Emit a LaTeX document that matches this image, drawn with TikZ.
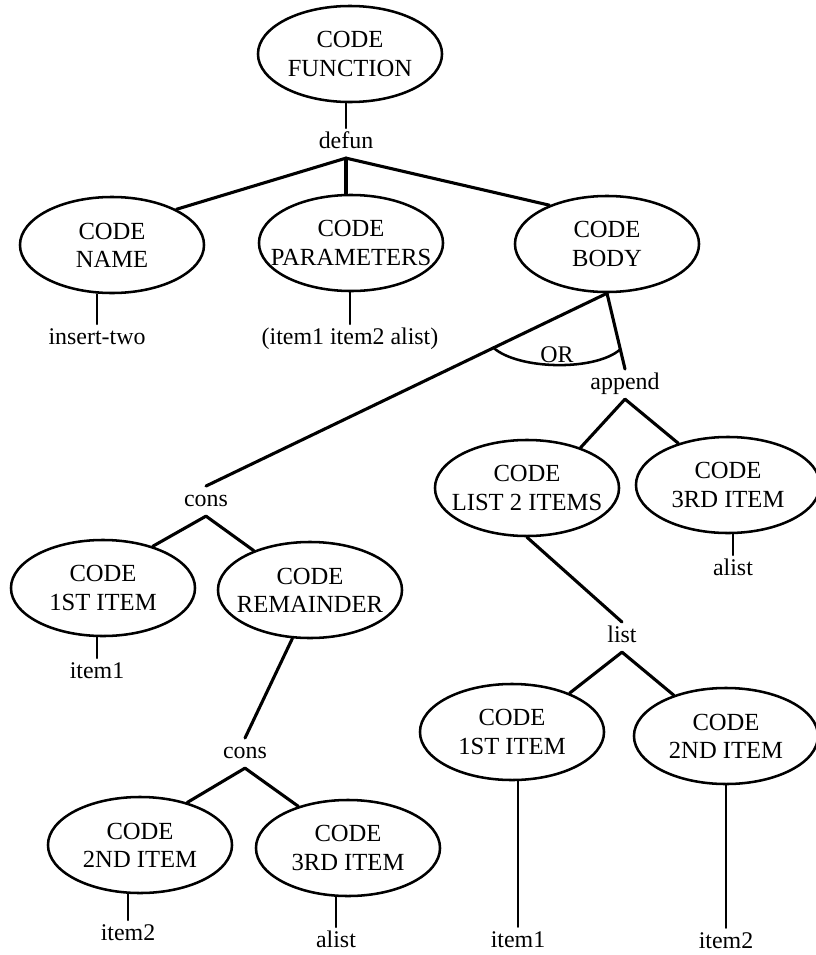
\documentclass[tikz,border=0pt]{standalone}
\usepackage{fontspec}
\setmainfont{Liberation Serif}
\usetikzlibrary{shapes.geometric}

\tikzset{
  codetext/.style={align=center, font=\fontsize{17.5}{20}\selectfont},
  codenode/.style={ellipse, draw, line width=1.8pt, minimum width=4.6cm,
    minimum height=2.4cm, inner sep=0pt, label={[codetext]center:CODE\\#1}},
  lispword/.style={anchor=base, inner sep=2pt, text height=12pt,
    text depth=5pt, font=\fontsize{17}{19}\selectfont},
  orlabel/.style={inner sep=1pt, font=\fontsize{17}{19}\selectfont},
  forkline/.style={line width=2.2pt},
  stemline/.style={line width=1.5pt},
  longstem/.style={line width=1.1pt}
}

\begin{document}
\begin{tikzpicture}[x=0.025cm, y=-0.025cm, line cap=round]
   \useasboundingbox (0,0) rectangle (816,955);

   % the code ellipses
   \foreach \n/\x/\y/\t in {func/350/54/FUNCTION, name/112/245/NAME,
       params/351/243/PARAMETERS, body/607/244/BODY, first/103/588/1ST ITEM,
       rest/310/590/REMAINDER, listtwo/527/488/LIST 2 ITEMS,
       thirdA/728/485/3RD ITEM, second/140/845/2ND ITEM,
       thirdB/348/848/3RD ITEM, firstB/512/732/1ST ITEM,
       secondB/726/736/2ND ITEM}
     \node [codenode=\t] (\n) at (\x,\y) {};

   % lisp words, placed on their base line
   \foreach \n/\x/\y/\t in {defun/346/148/defun, insert/97/344/insert-two,
       args/350/344/{(item1 item2 alist)}, append/625/389/append,
       consA/206/506/cons, itemA/97/678/item1, alistA/733/575/alist,
       list/622/642/list, consB/245/758/cons, itemB/128/940/item2,
       alistB/336/947/alist, itemC/518/947/item1, itemD/726/948/item2}
     \node [lispword] (\n) at (\x,\y) {\t};

   % short stems
   \foreach \a/\b in {func/defun, name/insert, params/args, first/itemA,
       thirdA/alistA, second/itemB, thirdB/alistB}
     \draw [stemline] (\b.north) -- (\b.north |- \a.south);
   \foreach \a/\b in {firstB/itemC, secondB/itemD}
     \draw [longstem] (\b.north) -- (\b.north |- \a.south);

   % forks
   \draw [forkline] (defun.south) -- (defun.south |- params.north);
   \foreach \a/\b in {defun/name.29, defun/body.146, consA/first.40,
       consA/rest.145, append/listtwo.37, append/thirdA.140, list/firstB.34,
       list/secondB.142, consB/second.42, consB/thirdB.140}
     \draw [forkline] (\a.south) -- (\b);

   \draw [forkline] (body.south) -- coordinate[pos=0.283] (orL) (consA.north);
   \draw [forkline] (body.south) -- coordinate[pos=0.74] (orR) (append.north);
   \draw [forkline] (rest.250) -- (consB.north);
   \draw [forkline] (listtwo.south) -- (list.north);

   \draw [line width=1.8pt] (orL) .. controls +(25,22) and +(-25,22) .. (orR)
     node [orlabel, pos=0.5, above] {OR};

\end{tikzpicture}
\end{document}
